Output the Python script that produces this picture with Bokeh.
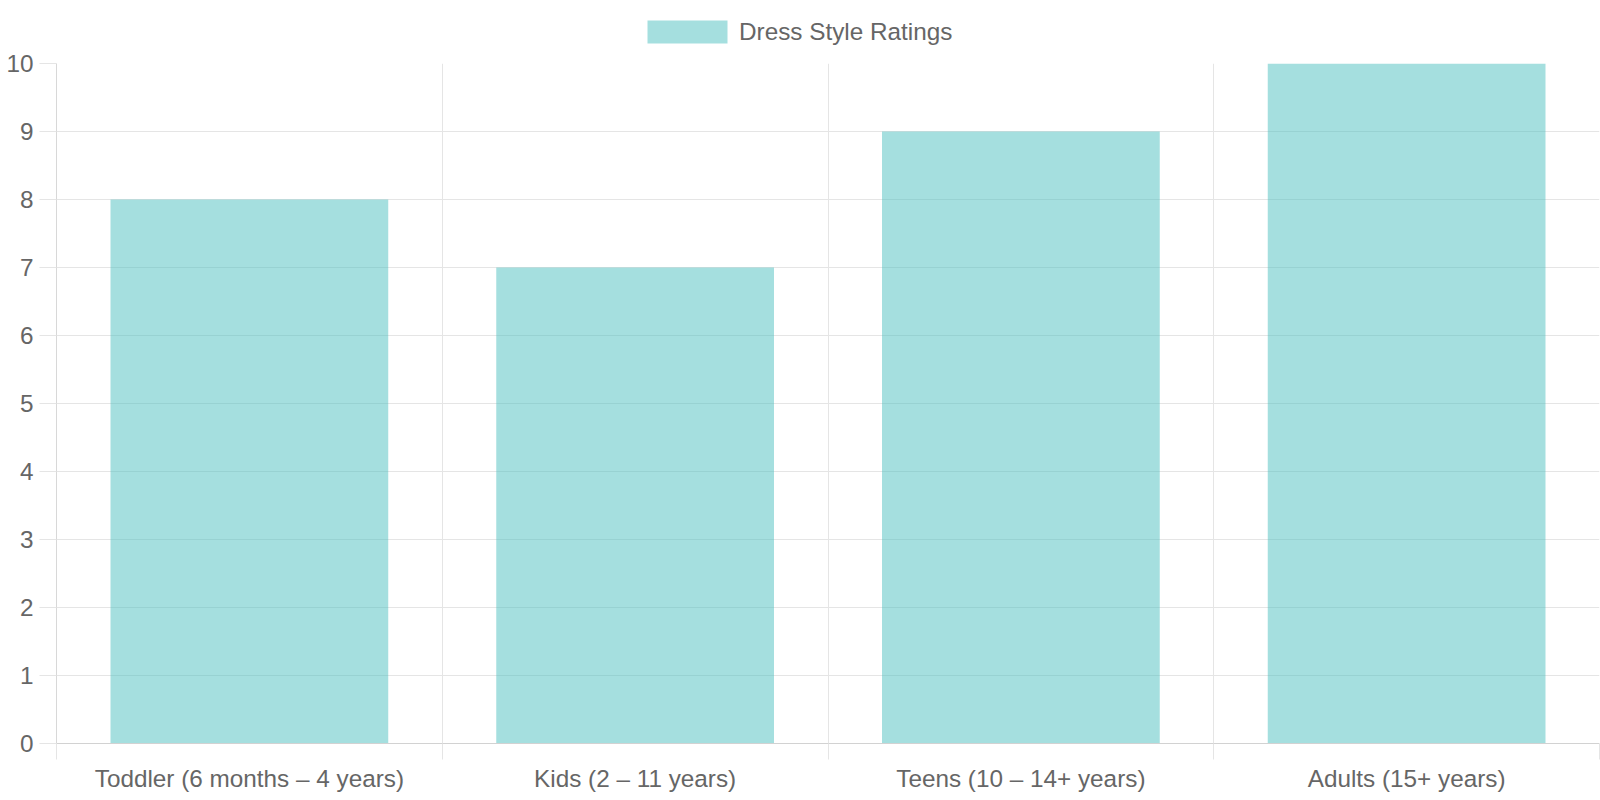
from bokeh.plotting import figure
from bokeh.layouts import column
from bokeh.models import Range1d, FixedTicker, Legend, LegendItem, ColumnDataSource
from bokeh.embed import file_html
from bokeh.resources import INLINE

categories = ["Toddler (6 months – 4 years)", "Kids (2 – 11 years)", "Teens (10 – 14+ years)", "Adults (15+ years)"]
ratings = [8, 7, 9, 10]
series_name = "Dress Style Ratings"
y_ticks = list(range(0, 11))

positions = [i + 0.5 for i in range(len(categories))]
boundaries = list(range(len(categories) + 1))

FONT = "Liberation Sans"
TEXT = "#666666"
GRID = "#e5e5e5"
FS = "24.3px"
BAR_COLOR = (75, 192, 192)
BAR_ALPHA = 0.5

W = 1600
TOP_H = 48
H = 800 - TOP_H
BL, BR, BT, BB = 56, 1, 15, 57

src = ColumnDataSource(dict(x=positions, top=ratings))

# ---- main chart
p = figure(width=W, height=H, output_backend="svg", toolbar_location=None,
           x_range=Range1d(0, len(categories)), y_range=Range1d(0, 10),
           min_border_left=BL, min_border_right=BR, min_border_top=BT, min_border_bottom=BB)
p.outline_line_color = None

p.vbar(x="x", top="top", width=0.72, source=src,
       fill_color=BAR_COLOR, fill_alpha=BAR_ALPHA, line_color=None)

p.xaxis.ticker = FixedTicker(ticks=positions, minor_ticks=boundaries)
p.xaxis.major_label_overrides = {pos: c for pos, c in zip(positions, categories)}
p.xaxis.major_tick_line_color = None
p.xaxis.major_tick_out = 0
p.xaxis.major_tick_in = 0
p.xaxis.minor_tick_out = 16
p.xaxis.minor_tick_in = 0
p.xaxis.minor_tick_line_color = GRID
p.xaxis.axis_line_color = "#d2d2d2"
p.xaxis.major_label_standoff = 5
p.xaxis.major_label_text_font = FONT
p.xaxis.major_label_text_font_size = FS
p.xaxis.major_label_text_color = TEXT

p.yaxis.ticker = FixedTicker(ticks=y_ticks)
p.yaxis.major_tick_out = 17
p.yaxis.major_tick_in = 0
p.yaxis.major_tick_line_color = GRID
p.yaxis.minor_tick_line_color = None
p.yaxis.axis_line_color = "#d8d8d8"
p.yaxis.major_label_standoff = 6
p.yaxis.major_label_text_font = FONT
p.yaxis.major_label_text_font_size = FS
p.yaxis.major_label_text_color = TEXT

p.xgrid.ticker = FixedTicker(ticks=boundaries)
p.xgrid.grid_line_color = GRID
p.ygrid.grid_line_color = GRID

# ---- legend strip on top (proxy renderer placed far outside its visible ranges)
lg = figure(width=W, height=TOP_H, output_backend="svg", toolbar_location=None,
            x_range=Range1d(100, 104), y_range=Range1d(100, 101),
            x_axis_type=None, y_axis_type=None,
            min_border_left=0, min_border_right=0, min_border_top=0, min_border_bottom=0)
lg.outline_line_color = None
lg.xgrid.visible = False
lg.ygrid.visible = False
proxy = lg.vbar(x="x", top="top", width=0.72, source=src,
                fill_color=BAR_COLOR, fill_alpha=BAR_ALPHA, line_color=None)
legend = Legend(items=[LegendItem(label=series_name, renderers=[proxy])],
                orientation="horizontal", location=(581, 2),
                glyph_width=100, glyph_height=29, label_standoff=2,
                label_text_font=FONT, label_text_font_size=FS, label_text_color=TEXT,
                label_height=29, label_text_baseline="middle",
                border_line_color=None, background_fill_alpha=0, padding=0, margin=0)
lg.add_layout(legend, "center")

layout = column(lg, p, spacing=0)
open("out.html", "w").write(file_html(layout, INLINE))
